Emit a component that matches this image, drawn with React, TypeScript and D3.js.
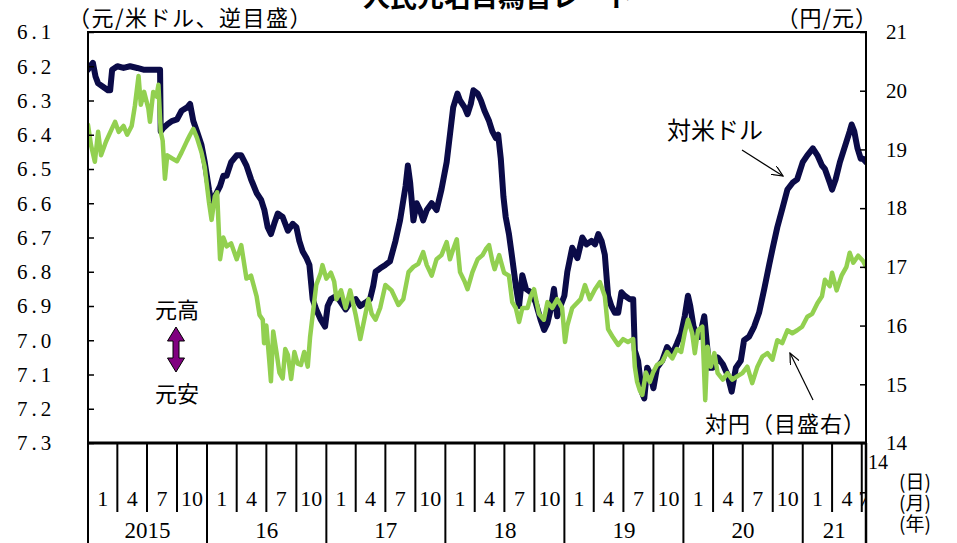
import * as d3 from "d3";
import { useEffect, useRef } from "react";

// 人民元の対米ドル（元/ドル、左軸・逆目盛）
const usdCny: [string, number][] = [
  ["2015-01-01", 6.21], ["2015-01-08", 6.2], ["2015-01-16", 6.19], ["2015-01-24", 6.23],
  ["2015-02-01", 6.25], ["2015-02-16", 6.26], ["2015-03-03", 6.27], ["2015-03-10", 6.27],
  ["2015-03-16", 6.21], ["2015-04-01", 6.2], ["2015-04-20", 6.205], ["2015-05-10", 6.2],
  ["2015-06-01", 6.205], ["2015-06-20", 6.21], ["2015-07-10", 6.21], ["2015-08-10", 6.21],
  ["2015-08-12", 6.39], ["2015-08-20", 6.38], ["2015-09-01", 6.37], ["2015-09-15", 6.36],
  ["2015-10-01", 6.355], ["2015-10-15", 6.33], ["2015-11-01", 6.32], ["2015-11-10", 6.31],
  ["2015-11-20", 6.36], ["2015-12-01", 6.39], ["2015-12-15", 6.43], ["2015-12-25", 6.48],
  ["2016-01-07", 6.56], ["2016-01-15", 6.6], ["2016-01-25", 6.58], ["2016-02-10", 6.55],
  ["2016-02-20", 6.52], ["2016-03-01", 6.52], ["2016-03-15", 6.48], ["2016-04-01", 6.46],
  ["2016-04-15", 6.46], ["2016-05-01", 6.49], ["2016-05-15", 6.53], ["2016-06-01", 6.57],
  ["2016-06-15", 6.59], ["2016-06-25", 6.62], ["2016-07-05", 6.67], ["2016-07-15", 6.69],
  ["2016-07-25", 6.66], ["2016-08-05", 6.63], ["2016-08-20", 6.64], ["2016-09-05", 6.68],
  ["2016-09-20", 6.66], ["2016-10-01", 6.67], ["2016-10-10", 6.71], ["2016-10-20", 6.74],
  ["2016-11-01", 6.76], ["2016-11-10", 6.78], ["2016-11-20", 6.88], ["2016-12-01", 6.91],
  ["2016-12-15", 6.94], ["2016-12-28", 6.96], ["2017-01-05", 6.9], ["2017-01-15", 6.88],
  ["2017-02-01", 6.87], ["2017-02-15", 6.89], ["2017-03-01", 6.91], ["2017-03-15", 6.89],
  ["2017-04-01", 6.88], ["2017-04-15", 6.9], ["2017-05-01", 6.89], ["2017-05-15", 6.88],
  ["2017-05-25", 6.84], ["2017-06-01", 6.8], ["2017-06-15", 6.79], ["2017-07-01", 6.78],
  ["2017-07-15", 6.77], ["2017-08-01", 6.71], ["2017-08-15", 6.65], ["2017-09-01", 6.55],
  ["2017-09-08", 6.49], ["2017-09-15", 6.54], ["2017-09-25", 6.65], ["2017-10-05", 6.6],
  ["2017-10-15", 6.62], ["2017-10-25", 6.65], ["2017-11-05", 6.62], ["2017-11-20", 6.6],
  ["2017-12-05", 6.62], ["2017-12-20", 6.56], ["2018-01-05", 6.48], ["2018-01-15", 6.4],
  ["2018-01-25", 6.32], ["2018-02-07", 6.28], ["2018-02-15", 6.3], ["2018-03-01", 6.32],
  ["2018-03-10", 6.34], ["2018-03-20", 6.31], ["2018-03-28", 6.27], ["2018-04-10", 6.28],
  ["2018-04-20", 6.3], ["2018-05-01", 6.33], ["2018-05-15", 6.36], ["2018-05-25", 6.39],
  ["2018-06-05", 6.41], ["2018-06-12", 6.4], ["2018-06-20", 6.47], ["2018-06-28", 6.58],
  ["2018-07-05", 6.64], ["2018-07-15", 6.69], ["2018-07-25", 6.76], ["2018-08-05", 6.84],
  ["2018-08-15", 6.9], ["2018-08-25", 6.81], ["2018-09-05", 6.85], ["2018-09-20", 6.86],
  ["2018-10-05", 6.89], ["2018-10-20", 6.94], ["2018-10-31", 6.97], ["2018-11-10", 6.95],
  ["2018-11-20", 6.91], ["2018-11-30", 6.85], ["2018-12-10", 6.93], ["2018-12-20", 6.9],
  ["2019-01-01", 6.87], ["2019-01-10", 6.8], ["2019-01-25", 6.73], ["2019-02-10", 6.76],
  ["2019-02-25", 6.7], ["2019-03-10", 6.72], ["2019-03-25", 6.71], ["2019-04-05", 6.72],
  ["2019-04-15", 6.69], ["2019-04-25", 6.71], ["2019-05-05", 6.75], ["2019-05-15", 6.87],
  ["2019-05-25", 6.9], ["2019-06-05", 6.92], ["2019-06-15", 6.92], ["2019-06-25", 6.86],
  ["2019-07-05", 6.87], ["2019-07-20", 6.88], ["2019-07-31", 6.88], ["2019-08-05", 7.03],
  ["2019-08-15", 7.06], ["2019-08-26", 7.15], ["2019-09-03", 7.17], ["2019-09-12", 7.08],
  ["2019-09-22", 7.1], ["2019-10-01", 7.14], ["2019-10-12", 7.08], ["2019-10-28", 7.06],
  ["2019-11-12", 7.02], ["2019-11-28", 7.04], ["2019-12-12", 7.01], ["2019-12-25", 6.98],
  ["2020-01-05", 6.93], ["2020-01-15", 6.87], ["2020-01-22", 6.9], ["2020-02-01", 6.96],
  ["2020-02-10", 6.98], ["2020-02-20", 6.99], ["2020-03-05", 6.93], ["2020-03-12", 7.0],
  ["2020-03-20", 7.08], ["2020-04-01", 7.08], ["2020-04-15", 7.05], ["2020-05-01", 7.07],
  ["2020-05-15", 7.1], ["2020-05-28", 7.15], ["2020-06-10", 7.08], ["2020-06-25", 7.06],
  ["2020-07-05", 7.0], ["2020-07-20", 6.99], ["2020-08-05", 6.96], ["2020-08-20", 6.92],
  ["2020-09-05", 6.85], ["2020-09-20", 6.78], ["2020-10-01", 6.73], ["2020-10-15", 6.67],
  ["2020-11-01", 6.61], ["2020-11-15", 6.56], ["2020-12-01", 6.54], ["2020-12-15", 6.53],
  ["2021-01-01", 6.48], ["2021-01-15", 6.46], ["2021-02-01", 6.44], ["2021-02-15", 6.46],
  ["2021-03-01", 6.49], ["2021-03-10", 6.5], ["2021-03-25", 6.54], ["2021-04-01", 6.56],
  ["2021-04-12", 6.53], ["2021-04-25", 6.48], ["2021-05-05", 6.45], ["2021-05-15", 6.42],
  ["2021-05-25", 6.39], ["2021-05-31", 6.37], ["2021-06-08", 6.39], ["2021-06-18", 6.44],
  ["2021-06-28", 6.47], ["2021-07-05", 6.47], ["2021-07-14", 6.48],
];

// 人民元の対円（円/元、右軸）
const jpyCny: [string, number][] = [
  ["2015-01-01", 19.42], ["2015-01-10", 19.08], ["2015-01-22", 18.79], ["2015-02-01", 19.3],
  ["2015-02-10", 18.9], ["2015-02-25", 19.13], ["2015-03-15", 19.35], ["2015-03-25", 19.47],
  ["2015-04-05", 19.3], ["2015-04-20", 19.4], ["2015-05-01", 19.25], ["2015-05-15", 19.4],
  ["2015-05-25", 19.75], ["2015-06-05", 20.25], ["2015-06-12", 19.76], ["2015-06-22", 19.98],
  ["2015-07-05", 19.7], ["2015-07-10", 19.47], ["2015-07-20", 19.98], ["2015-07-30", 19.9],
  ["2015-08-05", 20.1], ["2015-08-12", 19.3], ["2015-08-18", 19.15], ["2015-08-25", 18.5],
  ["2015-09-01", 18.9], ["2015-09-15", 18.85], ["2015-10-01", 18.8], ["2015-10-15", 18.95],
  ["2015-11-01", 19.15], ["2015-11-10", 19.25], ["2015-11-20", 19.35], ["2015-12-01", 19.2],
  ["2015-12-15", 18.95], ["2015-12-25", 18.7], ["2016-01-07", 18.1], ["2016-01-15", 17.8],
  ["2016-01-25", 18.2], ["2016-02-01", 18.27], ["2016-02-10", 17.13], ["2016-02-20", 17.5],
  ["2016-03-01", 17.35], ["2016-03-15", 17.4], ["2016-04-01", 17.13], ["2016-04-15", 17.37],
  ["2016-05-01", 16.8], ["2016-05-15", 16.85], ["2016-06-01", 16.5], ["2016-06-10", 16.18],
  ["2016-06-20", 16.1], ["2016-06-24", 15.7], ["2016-07-01", 16.0], ["2016-07-10", 15.4],
  ["2016-07-15", 15.05], ["2016-07-22", 15.9], ["2016-08-01", 15.55], ["2016-08-10", 15.2],
  ["2016-08-20", 15.1], ["2016-08-28", 15.6], ["2016-09-05", 15.5], ["2016-09-15", 15.09],
  ["2016-09-25", 15.55], ["2016-10-05", 15.35], ["2016-10-15", 15.33], ["2016-10-25", 15.55],
  ["2016-11-05", 15.3], ["2016-11-12", 15.8], ["2016-11-20", 16.18], ["2016-12-01", 16.69],
  ["2016-12-15", 16.9], ["2016-12-20", 17.03], ["2017-01-01", 16.8], ["2017-01-15", 16.9],
  ["2017-01-25", 16.75], ["2017-02-01", 16.45], ["2017-02-15", 16.6], ["2017-03-01", 16.3],
  ["2017-03-15", 16.6], ["2017-04-01", 16.18], ["2017-04-15", 15.77], ["2017-05-01", 16.2],
  ["2017-05-10", 16.45], ["2017-05-20", 16.2], ["2017-06-01", 16.1], ["2017-06-15", 16.3],
  ["2017-07-01", 16.69], ["2017-07-20", 16.6], ["2017-08-10", 16.35], ["2017-08-25", 16.45],
  ["2017-09-10", 16.91], ["2017-09-25", 17.0], ["2017-10-10", 17.05], ["2017-10-25", 17.25],
  ["2017-11-05", 17.03], ["2017-11-20", 16.85], ["2017-12-05", 17.13], ["2017-12-20", 17.2],
  ["2018-01-05", 17.42], ["2018-01-15", 17.13], ["2018-01-25", 17.3], ["2018-02-05", 17.47],
  ["2018-02-15", 16.91], ["2018-03-01", 16.75], ["2018-03-10", 16.62], ["2018-03-25", 16.91],
  ["2018-04-10", 17.13], ["2018-04-25", 17.2], ["2018-05-05", 17.3], ["2018-05-15", 17.37],
  ["2018-05-25", 17.1], ["2018-06-01", 16.96], ["2018-06-15", 17.2], ["2018-06-30", 16.9],
  ["2018-07-15", 16.85], ["2018-07-25", 16.4], ["2018-08-05", 16.3], ["2018-08-15", 16.06],
  ["2018-08-25", 16.3], ["2018-09-10", 16.3], ["2018-09-20", 16.5], ["2018-09-30", 16.62],
  ["2018-10-15", 16.2], ["2018-10-30", 16.1], ["2018-11-10", 16.4], ["2018-11-25", 16.3],
  ["2018-12-10", 16.45], ["2018-12-25", 16.3], ["2019-01-03", 15.72], ["2019-01-10", 16.0],
  ["2019-01-25", 16.3], ["2019-02-20", 16.45], ["2019-03-05", 16.69], ["2019-03-20", 16.45],
  ["2019-04-05", 16.62], ["2019-04-20", 16.74], ["2019-05-05", 16.5], ["2019-05-15", 15.94],
  ["2019-05-30", 15.8], ["2019-06-15", 15.67], ["2019-06-30", 15.77], ["2019-07-15", 15.72],
  ["2019-07-31", 15.77], ["2019-08-05", 15.3], ["2019-08-12", 15.04], ["2019-08-20", 14.9],
  ["2019-08-28", 14.82], ["2019-09-08", 15.2], ["2019-09-20", 15.04], ["2019-09-30", 15.2],
  ["2019-10-12", 15.33], ["2019-10-28", 15.38], ["2019-11-12", 15.55], ["2019-11-28", 15.44],
  ["2019-12-12", 15.6], ["2019-12-25", 15.55], ["2020-01-05", 15.87], ["2020-01-15", 16.1],
  ["2020-01-28", 15.87], ["2020-02-05", 15.53], ["2020-02-15", 15.92], ["2020-02-28", 15.98],
  ["2020-03-08", 14.73], ["2020-03-15", 15.64], ["2020-03-25", 15.3], ["2020-04-05", 15.53],
  ["2020-04-15", 15.19], ["2020-05-01", 15.08], ["2020-05-15", 15.19], ["2020-05-30", 15.08],
  ["2020-06-15", 15.14], ["2020-06-30", 15.19], ["2020-07-15", 15.3], ["2020-07-30", 15.02],
  ["2020-08-15", 15.3], ["2020-08-30", 15.47], ["2020-09-15", 15.53], ["2020-09-30", 15.42],
  ["2020-10-15", 15.75], ["2020-10-30", 15.7], ["2020-11-15", 15.92], ["2020-11-30", 15.87],
  ["2020-12-15", 15.92], ["2020-12-30", 15.98], ["2021-01-15", 16.15], ["2021-01-30", 16.2],
  ["2021-02-15", 16.38], ["2021-03-01", 16.5], ["2021-03-10", 16.78], ["2021-03-25", 16.67],
  ["2021-04-01", 16.9], ["2021-04-15", 16.6], ["2021-04-30", 16.85], ["2021-05-15", 17.0],
  ["2021-05-25", 17.24], ["2021-06-05", 17.07], ["2021-06-20", 17.19], ["2021-07-05", 17.1],
  ["2021-07-14", 17.0],
];

const leftTicks = [6.1, 6.2, 6.3, 6.4, 6.5, 6.6, 6.7, 6.8, 6.9, 7.0, 7.1, 7.2, 7.3];
const rightTicks = [14, 15, 16, 17, 18, 19, 20, 21];
const quarterLabels = ["1", "4", "7", "10"];
const yearLabels = ["2015", "16", "17", "18", "19", "20", "21"];
const unitRows = ["(日)", "(月)", "(年)"];
const startDate = "2015-01-01";
const endDate = "2021-07-14";

const NUM_FONT = "'Liberation Serif', 'Noto Sans CJK JP', serif";
const JP_FONT = "'Noto Sans CJK JP', sans-serif";

export default function App() {
  const svgRef = useRef<SVGSVGElement>(null);

  useEffect(() => {
    if (!svgRef.current) return;
    const svg = d3.select(svgRef.current);
    svg.selectAll("*").remove();

    const width = 957;
    const height = 543;
    const margin = { top: 32, right: 91, bottom: 100, left: 88 };
    const x0 = margin.left;
    const x1 = width - margin.right;
    const y0 = margin.top;
    const y1 = height - margin.bottom;

    const parse = d3.timeParse("%Y-%m-%d");
    const start = parse(startDate)!;
    const end = parse(endDate)!;

    const x = d3.scaleTime().domain([start, end]).range([x0, x1]);
    const yLeft = d3.scaleLinear().domain([6.1, 7.3]).range([y0, y1]);
    const yRight = d3.scaleLinear().domain([14, 21]).range([y1, y0]);

    const usd = usdCny.map(([d, v]) => ({ date: parse(d)!, value: v }));
    const jpy = jpyCny.map(([d, v]) => ({ date: parse(d)!, value: v }));

    const defs = svg.append("defs");
    defs
      .append("clipPath")
      .attr("id", "plot-clip")
      .append("rect")
      .attr("x", x0)
      .attr("y", y0)
      .attr("width", x1 - x0)
      .attr("height", y1 - y0);
    defs
      .append("clipPath")
      .attr("id", "month-clip")
      .append("rect")
      .attr("x", x0)
      .attr("y", y1)
      .attr("width", x1 - x0)
      .attr("height", height - y1);
    defs
      .append("marker")
      .attr("id", "arrow")
      .attr("viewBox", "0 0 12 10")
      .attr("refX", 11)
      .attr("refY", 5)
      .attr("markerWidth", 12)
      .attr("markerHeight", 10)
      .attr("markerUnits", "userSpaceOnUse")
      .attr("orient", "auto")
      .append("path")
      .attr("d", "M0,0 L11,5 L0,10")
      .attr("fill", "none")
      .attr("stroke", "#000")
      .attr("stroke-width", 1.2);

    // Title (partly cut off at the top)
    svg
      .append("text")
      .attr("x", 363)
      .attr("y", 7)
      .style("font-family", JP_FONT)
      .style("font-size", "27px")
      .style("font-weight", "bold")
      .text("人民元名目為替レート");

    // Unit labels
    svg
      .append("text")
      .attr("x", 68)
      .attr("y", 26)
      .style("font-family", JP_FONT)
      .style("font-size", "22px")
      .style("letter-spacing", "1.5px")
      .text("（元/米ドル、逆目盛）");
    svg
      .append("text")
      .attr("x", 878)
      .attr("y", 26)
      .attr("text-anchor", "end")
      .style("font-family", JP_FONT)
      .style("font-size", "22px")
      .style("letter-spacing", "1px")
      .text("（円/元）");

    // Lines
    const plot = svg.append("g").attr("clip-path", "url(#plot-clip)");
    const usdLine = d3
      .line<{ date: Date; value: number }>()
      .x((d) => x(d.date))
      .y((d) => yLeft(d.value));
    const jpyLine = d3
      .line<{ date: Date; value: number }>()
      .x((d) => x(d.date))
      .y((d) => yRight(d.value));

    plot
      .append("path")
      .datum(usd)
      .attr("d", usdLine)
      .attr("fill", "none")
      .attr("stroke", "#0b0b48")
      .attr("stroke-width", 6)
      .attr("stroke-linejoin", "round")
      .attr("stroke-linecap", "round");

    plot
      .append("path")
      .datum(jpy)
      .attr("d", jpyLine)
      .attr("fill", "none")
      .attr("stroke", "#92d050")
      .attr("stroke-width", 4.5)
      .attr("stroke-linejoin", "round")
      .attr("stroke-linecap", "round");

    // Left axis (ticks point inward)
    svg
      .append("g")
      .attr("transform", `translate(${x0},0)`)
      .call(
        d3
          .axisLeft(yLeft)
          .tickValues(leftTicks)
          .tickSizeInner(-6)
          .tickSizeOuter(0)
          .tickFormat(() => ""),
      )
      .call((g) => g.select(".domain").remove())
      .call((g) => g.selectAll("line").attr("stroke-width", 1.5));

    svg
      .append("g")
      .selectAll("text")
      .data(leftTicks)
      .enter()
      .append("text")
      .attr("x", 17)
      .attr("y", (d) => yLeft(d))
      .attr("dy", "0.35em")
      .style("font-family", NUM_FONT)
      .style("font-size", "21px")
      .style("letter-spacing", "4px")
      .text((d) => d.toFixed(1));

    // Right axis
    svg
      .append("g")
      .attr("transform", `translate(${x1},0)`)
      .call(
        d3
          .axisRight(yRight)
          .tickValues(rightTicks)
          .tickSizeInner(-6)
          .tickSizeOuter(0)
          .tickPadding(20)
          .tickFormat((d) => String(d)),
      )
      .call((g) => g.select(".domain").remove())
      .call((g) => g.selectAll("line").attr("stroke-width", 1.5))
      .call((g) =>
        g
          .selectAll("text")
          .attr("x", 20)
          .style("font-family", NUM_FONT)
          .style("font-size", "21px")
          .style("fill", "#000"),
      );

    // Plot frame
    svg
      .append("rect")
      .attr("x", x0)
      .attr("y", y0)
      .attr("width", x1 - x0)
      .attr("height", y1 - y0)
      .attr("fill", "none")
      .attr("stroke", "#000")
      .attr("stroke-width", 2);
    svg
      .append("line")
      .attr("x1", x0)
      .attr("x2", x1)
      .attr("y1", y1)
      .attr("y2", y1)
      .attr("stroke", "#000")
      .attr("stroke-width", 3);

    // Bottom axis: quarter and year separators
    const quarters = d3.timeMonth.every(3)!.range(start, end);
    const years = d3.timeYear.range(start, end);
    const bottom = svg.append("g");

    bottom
      .selectAll(".q-tick")
      .data(quarters)
      .enter()
      .append("line")
      .attr("x1", (d) => x(d))
      .attr("x2", (d) => x(d))
      .attr("y1", y1)
      .attr("y2", (d) => (d.getMonth() === 0 ? height : 512))
      .attr("stroke", "#000")
      .attr("stroke-width", 2);

    bottom
      .append("line")
      .attr("x1", x1)
      .attr("x2", x1)
      .attr("y1", y1)
      .attr("y2", height)
      .attr("stroke", "#000")
      .attr("stroke-width", 2.5);

    bottom
      .append("g")
      .attr("clip-path", "url(#month-clip)")
      .selectAll("text")
      .data(quarters)
      .enter()
      .append("text")
      .attr("x", (d, i) => {
        const next = i + 1 < quarters.length ? quarters[i + 1] : end;
        return (x(d) + x(next)) / 2;
      })
      .attr("y", 506)
      .attr("text-anchor", "middle")
      .style("font-family", NUM_FONT)
      .style("font-size", "22px")
      .text((d) => quarterLabels[Math.floor(d.getMonth() / 3)]);

    bottom
      .selectAll(".year-label")
      .data(years)
      .enter()
      .append("text")
      .attr("x", (d, i) => {
        const next = i + 1 < years.length ? years[i + 1] : end;
        return (x(d) + x(next)) / 2;
      })
      .attr("y", 538)
      .attr("text-anchor", "middle")
      .style("font-family", NUM_FONT)
      .style("font-size", "23px")
      .text((d, i) => yearLabels[i]);

    // Day of the last observation
    svg
      .append("text")
      .attr("x", 868)
      .attr("y", 469)
      .style("font-family", NUM_FONT)
      .style("font-size", "20px")
      .text("14");

    svg
      .append("g")
      .selectAll("text")
      .data(unitRows)
      .enter()
      .append("text")
      .attr("x", 915)
      .attr("y", (d, i) => 489 + i * 21)
      .attr("text-anchor", "middle")
      .style("font-family", JP_FONT)
      .style("font-size", "19px")
      .text((d) => d);

    // Annotations
    svg
      .append("text")
      .attr("x", 667)
      .attr("y", 139)
      .style("font-family", JP_FONT)
      .style("font-size", "24px")
      .text("対米ドル");
    svg
      .append("line")
      .attr("x1", 742)
      .attr("y1", 150)
      .attr("x2", 783)
      .attr("y2", 176)
      .attr("stroke", "#000")
      .attr("stroke-width", 1.2)
      .attr("marker-end", "url(#arrow)");

    svg
      .append("text")
      .attr("x", 705)
      .attr("y", 432)
      .style("font-family", JP_FONT)
      .style("font-size", "22px")
      .style("letter-spacing", "1px")
      .text("対円（目盛右）");
    svg
      .append("line")
      .attr("x1", 813)
      .attr("y1", 400)
      .attr("x2", 790)
      .attr("y2", 353)
      .attr("stroke", "#000")
      .attr("stroke-width", 1.2)
      .attr("marker-end", "url(#arrow)");

    svg
      .append("text")
      .attr("x", 155)
      .attr("y", 318)
      .style("font-family", JP_FONT)
      .style("font-size", "22px")
      .text("元高");
    svg
      .append("text")
      .attr("x", 155)
      .attr("y", 402)
      .style("font-family", JP_FONT)
      .style("font-size", "22px")
      .text("元安");

    // Purple double arrow
    const cx = 176;
    const top = 327;
    const bot = 372;
    const head = 14;
    const pts: [number, number][] = [
      [cx, top],
      [cx + 8.5, top + head],
      [cx + 3, top + head],
      [cx + 3, bot - head],
      [cx + 8.5, bot - head],
      [cx, bot],
      [cx - 8.5, bot - head],
      [cx - 3, bot - head],
      [cx - 3, top + head],
      [cx - 8.5, top + head],
    ];
    svg
      .append("polygon")
      .attr("points", pts.map((p) => p.join(",")).join(" "))
      .attr("fill", "#800080")
      .attr("stroke", "#000")
      .attr("stroke-width", 1);
  }, []);

  return (
    <div style={{ width: 957, height: 543 }}>
      <style>{`body { margin: 0; background: #fff; }`}</style>
      <svg
        ref={svgRef}
        width={957}
        height={543}
        style={{ display: "block", background: "#fff" }}
      />
    </div>
  );
}
